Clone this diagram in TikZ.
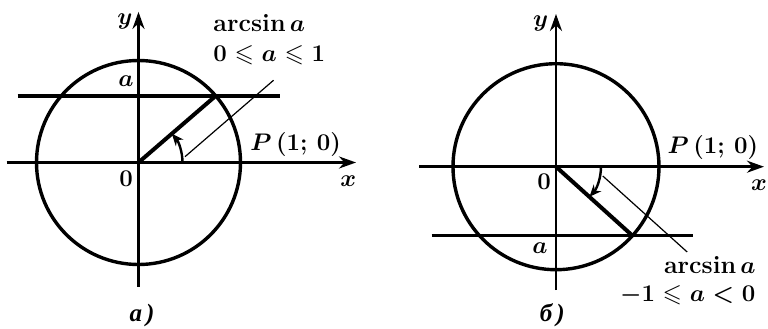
\documentclass[tikz,border=0pt]{standalone}
\usepackage{amssymb}
\usepackage{fontspec}
\newfontfamily\cyr{Liberation Serif}
\usetikzlibrary{arrows.meta,calc}
\begin{document}
\begin{tikzpicture}[x=0.5pt,y=0.5pt,
  axis/.style={line width=1.3pt,-{Stealth[length=8.5pt,width=6pt]}},
  circ/.style={line width=1.7pt},
  hline/.style={line width=1.6pt},
  rad/.style={line width=2pt},
  thinl/.style={line width=0.6pt},
  angarrow/.style={line width=1.2pt,-{Stealth[length=6pt,width=5pt]}},
  lbl/.style={font=\fontsize{12.5}{15}\selectfont\bfseries\boldmath, inner sep=0pt},
  caplbl/.style={font=\fontsize{12.5}{15}\selectfont\cyr\bfseries\itshape, inner sep=0pt},
]
\useasboundingbox (0,0) rectangle (768,328);
% ---------- figure a ----------
\begin{scope}[shift={(138.5,165.5)}]
 \coordinate (O1) at (0,0);
 \coordinate (X1s) at (-132,0);
 \coordinate (X1e) at (217.5,0);
 \coordinate (Y1s) at (0,-124.4);
 \coordinate (Y1e) at (0,150.6);
 \coordinate (H1s) at (-121,66.6);
 \coordinate (H1e) at (141,66.6);
 \coordinate (A1) at (40.8:102);
 \coordinate (T1s) at ($(40.8:39)+(-49.2:26)$);
 \coordinate (T1e) at ($(40.8:156)+(-49.2:26)$);
 \draw[axis] (X1s) -- (X1e);
 \draw[axis] (Y1s) -- (Y1e);
 \draw[circ] (O1) circle (102);
 \draw[hline] (H1s) -- (H1e);
 \draw[rad] (O1) -- (A1);
 \draw[angarrow] (44,0) arc (0:40.8:44);
 \draw[thinl] (T1s) -- (T1e);
 \node[lbl, anchor=base west] (arc1) at (74.5,131.5) {arcsin\,$a$};
 \node[lbl, anchor=base west] (rng1) at (74.5,101.5) {$0\leqslant a\leqslant 1$};
 \node[lbl, anchor=base] (a1) at (-12.5,76.3) {$a$};
 \node[lbl, anchor=base] (z1) at (-12.5,-23.7) {$0$};
 \node[lbl, anchor=base] (y1) at (-13.5,138.3) {$y$};
 \node[lbl, anchor=base] (x1) at (209.8,-23.7) {$x$};
 \node[lbl, anchor=base west] (P1) at (111.5,12.3) {$P\,(1;\,0)$};
 \node[caplbl, anchor=base] (c1) at (3.5,-158.5) {а\,)};
\end{scope}
% ---------- figure b ----------
\begin{scope}[shift={(556,161.3)}]
 \coordinate (O2) at (0,0);
 \coordinate (X2s) at (-137,0);
 \coordinate (X2e) at (208,0);
 \coordinate (Y2s) at (0,-123.3);
 \coordinate (Y2e) at (0,152.7);
 \coordinate (H2s) at (-124.3,-69);
 \coordinate (H2e) at (137.3,-69);
 \coordinate (A2) at (-42.06:103);
 \coordinate (T2s) at ($(-42:41)+(48:24.4)$);
 \coordinate (T2e) at ($(-42:154.5)+(48:24.4)$);
 \draw[axis] (X2s) -- (X2e);
 \draw[axis] (Y2s) -- (Y2e);
 \draw[circ] (O2) circle (103);
 \draw[hline] (H2s) -- (H2e);
 \draw[rad] (O2) -- (A2);
 \draw[angarrow] (45,0) arc (0:-42:45);
 \draw[thinl] (T2s) -- (T2e);
 \node[lbl, anchor=base east] (arc2) at (200,-107) {arcsin\,$a$};
 \node[lbl, anchor=base east] (rng2) at (199.7,-135) {$-1\leqslant a<0$};
 \node[lbl, anchor=base] (a2) at (-16,-86.6) {$a$};
 \node[lbl, anchor=base] (z2) at (-12,-22.6) {$0$};
 \node[lbl, anchor=base] (y2) at (-15.3,140.7) {$y$};
 \node[lbl, anchor=base] (x2) at (203,-23.3) {$x$};
 \node[lbl, anchor=base west] (P2) at (111.3,13.4) {$P\,(1;\,0)$};
 \node[caplbl, anchor=base] (c2) at (-3.7,-154.5) {б\,)};
\end{scope}
\end{tikzpicture}
\end{document}
